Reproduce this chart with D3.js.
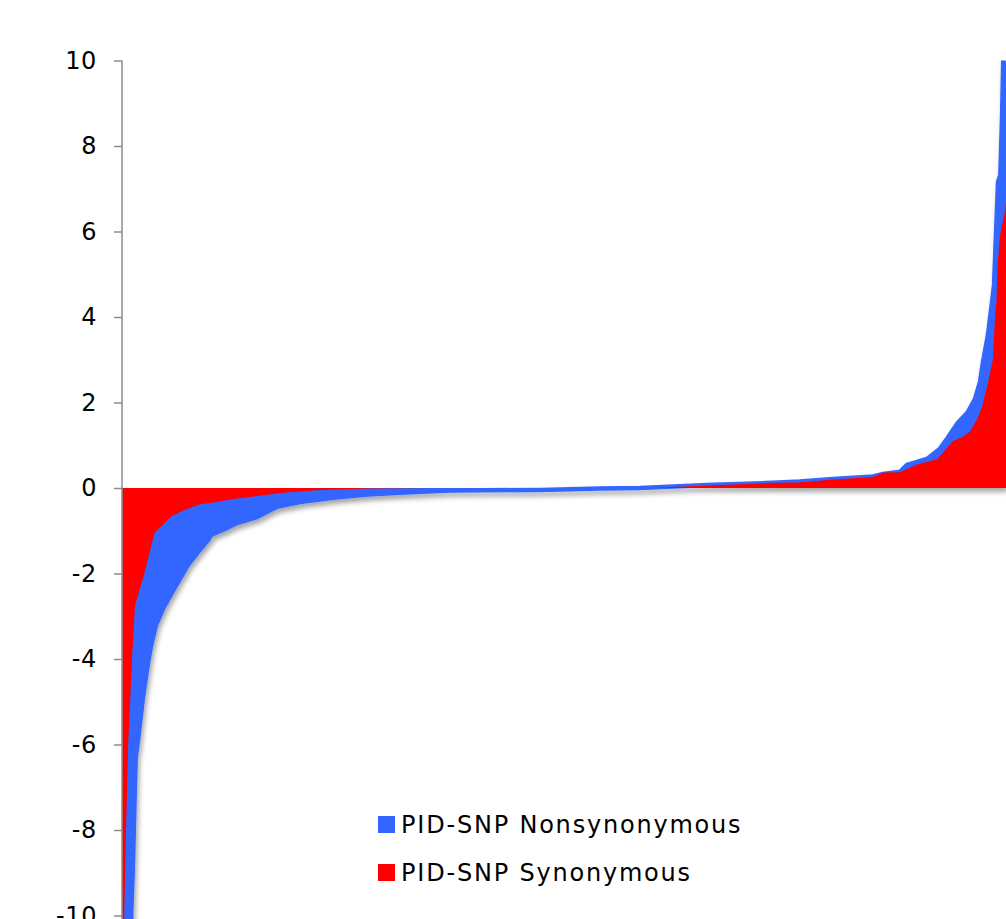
<!DOCTYPE html>
<meta charset="utf-8">
<script src="https://d3js.org/d3.v7.min.js"></script>
<body style="margin:0; background:#fff">
<div id="chart"></div>
</body>
<script>

    // Sorted rank (0-1000) and PID-SNP value
    var nonsynRank = [0, 6, 10.5, 12.4, 14.3, 15.5, 18.1, 23.7, 29.4, 32.8, 38.5, 47, 55, 63.3, 74.7, 86, 97.3, 100.7,
        116.5, 130.1, 152.7, 175.3, 201.4, 238.7, 277.1, 314.5, 371, 472.9, 540.7, 586, 661.8, 736.4, 766.7,
        804.3, 849.5, 860.9, 880.1, 888, 910.6, 925.3, 933.3, 944.6, 957, 964.9, 970.6, 974, 979.6, 984.2,
        986.5, 987.9, 991, 993.6, 995.5, 997.4, 1000];
    var nonsynValue = [-30, -15, -9.9, -8.8, -7.2, -6.3, -5.9, -4.9, -4.1, -3.7, -3.2, -2.8, -2.5, -2.2, -1.8, -1.5, -1.22, -1.1,
        -0.96, -0.82, -0.68, -0.44, -0.33, -0.23, -0.15, -0.11, -0.06, -0.045, -0.01, 0, 0.07, 0.12, 0.15,
        0.21, 0.27, 0.33, 0.38, 0.54, 0.68, 0.92, 1.15, 1.5, 1.78, 2.08, 2.48, 2.95, 3.58, 4.35,
        4.75, 5.52, 7.16, 7.32, 8.64, 10.5, 14];

    var synRank = [0, 2.6, 4.5, 7.1, 11.3, 14.7, 20, 25.7, 31.3, 37, 44.1, 55.4, 66.7, 86, 108.6, 125.6, 144.8, 182.1,
        220.6, 277.1, 351.8, 597.3, 661.8, 736.4, 766.7, 804.3, 849.5, 860.9, 880.1, 899.3, 921.9, 928.7, 940,
        951.4, 959.3, 967.2, 972.9, 979.6, 985.1, 987.6, 989.3, 990.4, 993.2, 998.9, 1000];
    var synValue = [-30, -9.9, -8.05, -5.95, -4.0, -2.75, -2.37, -1.97, -1.51, -1.04, -0.9, -0.67, -0.55, -0.39, -0.32, -0.26, -0.21, -0.11,
        -0.05, -0.01, 0, 0, 0.06, 0.12, 0.13, 0.2, 0.26, 0.36, 0.37, 0.55, 0.67, 0.83, 1.1,
        1.2, 1.32, 1.6, 1.9, 2.46, 3.0, 4.0, 4.4, 5.2, 5.9, 6.5, 6.7];

    var yTicks = [-10, -8, -6, -4, -2, 0, 2, 4, 6, 8, 10];
    var seriesNames = ["PID-SNP Nonsynonymous", "PID-SNP Synonymous"];
    var seriesColors = ["#3366ff", "#ff0000"];

    var width = 1006, height = 919;

    var nonsyn = nonsynRank.map(function (r, i) { return {r: r, v: nonsynValue[i]}; });
    var syn = synRank.map(function (r, i) { return {r: r, v: synValue[i]}; });

    var svg = d3.select("#chart")
        .append("svg")
        .attr("width", width)
        .attr("height", height)
        .style("display", "block");

    var x = d3.scaleLinear().domain([0, 1000]).range([122, 1006]);
    var y = d3.scaleLinear().domain([-10, 10]).range([915.5, 60.5]);

    var defs = svg.append("defs");
    defs.append("clipPath").attr("id", "plotclip")
        .append("rect")
        .attr("x", 122).attr("y", y(10))
        .attr("width", width - 122).attr("height", height - y(10));
    defs.append("filter").attr("id", "shadow")
        .attr("x", "-5%").attr("y", "-5%").attr("width", "110%").attr("height", "110%")
        .append("feDropShadow")
        .attr("dx", 2).attr("dy", 4)
        .attr("stdDeviation", 2.5)
        .attr("flood-color", "#000")
        .attr("flood-opacity", 0.35);

    var area = d3.area()
        .x(function (d) { return x(d.r); })
        .y0(y(0))
        .y1(function (d) { return y(d.v); });
    var line = d3.line()
        .x(function (d) { return x(d.r); })
        .y(function (d) { return y(d.v); });

    var plot = svg.append("g").attr("clip-path", "url(#plotclip)")
        .append("g").attr("filter", "url(#shadow)");

    // Nonsynonymous behind, with its thick outline
    plot.append("path")
        .datum(nonsyn)
        .attr("d", area)
        .attr("fill", seriesColors[0]);
    plot.append("path")
        .datum(nonsyn)
        .attr("d", line)
        .attr("fill", "none")
        .attr("stroke", seriesColors[0])
        .attr("stroke-width", 4.5)
        .attr("stroke-linejoin", "round");

    // Synonymous on top
    plot.append("path")
        .datum(syn)
        .attr("d", area)
        .attr("fill", seriesColors[1]);

    // Y axis
    var yAxis = svg.append("g")
        .attr("transform", "translate(122,0)")
        .call(d3.axisLeft(y).tickValues(yTicks).tickSize(8).tickSizeOuter(0).tickPadding(17)
            .tickFormat(function (d) { return String(d); }));
    yAxis.select(".domain").remove();
    yAxis.selectAll(".tick line").attr("stroke", "#8c8c8c").attr("stroke-width", 1.5);
    yAxis.selectAll(".tick text")
        .attr("fill", "#000")
        .style("font-family", "'DejaVu Sans', Verdana, sans-serif")
        .style("font-size", "24px")
        .style("letter-spacing", "0.6px");
    yAxis.append("line")
        .attr("x1", 0).attr("x2", 0)
        .attr("y1", y(10)).attr("y2", height)
        .attr("stroke", "#8c8c8c")
        .attr("stroke-width", 1.5);

    // Legend
    var legend = svg.append("g").attr("transform", "translate(378,816)");
    seriesNames.forEach(function (name, i) {
        var row = legend.append("g").attr("transform", "translate(0," + (i * 48) + ")");
        row.append("rect")
            .attr("width", 17).attr("height", 17)
            .attr("fill", seriesColors[i]);
        row.append("text")
            .attr("x", 23).attr("y", 17)
            .style("font-family", "'DejaVu Sans', Verdana, sans-serif")
            .style("font-size", "24px")
            .style("letter-spacing", "1.8px")
            .attr("fill", "#000")
            .text(name);
    });

</script>
